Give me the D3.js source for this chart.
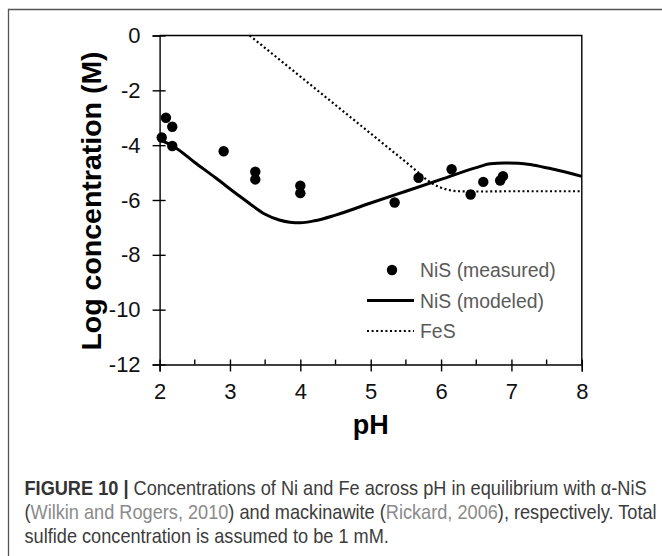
<!DOCTYPE html>
<html><head><meta charset="utf-8">
<script src="https://cdn.jsdelivr.net/npm/d3@7/dist/d3.min.js"></script>
<style>body{margin:0;background:#fff}svg{display:block}</style>
</head><body>
<script>
// ---- data ----
const measuredPH   = [2.03, 2.09, 2.18, 2.18, 2.91, 3.36, 3.36, 4.00, 4.00, 5.34, 5.68, 6.15, 6.42, 6.60, 6.84, 6.88];
const measuredLogC = [-3.72, -3.00, -3.33, -4.03, -4.22, -4.97, -5.25, -5.48, -5.75, -6.09, -5.19, -4.88, -5.80, -5.34, -5.29, -5.13];

const modeledPH   = [2.0, 2.2, 2.5, 2.8, 3.1, 3.3, 3.5, 3.7, 3.85, 4.0, 4.2, 4.5, 5.0, 5.5, 6.0, 6.5, 6.7, 6.9, 7.1, 7.3, 7.6, 8.0];
const modeledLogC = [-3.80, -4.05, -4.63, -5.20, -5.79, -6.17, -6.52, -6.73, -6.81, -6.83, -6.76, -6.55, -6.11, -5.68, -5.25, -4.82, -4.68, -4.65, -4.66, -4.72, -4.88, -5.14];

const fesPH   = [3.28, 3.8, 4.3, 4.8, 5.3, 5.6, 5.7, 5.8, 5.9, 6.0, 6.1, 6.25, 6.6, 7.0, 7.5, 8.0];
const fesLogC = [0.00, -1.08, -2.12, -3.16, -4.20, -4.83, -5.05, -5.27, -5.43, -5.55, -5.63, -5.68, -5.69, -5.68, -5.68, -5.68];

const xTicks = [2, 3, 4, 5, 6, 7, 8];
const xMinorTicks = [2.5, 3.5, 4.5, 5.5, 6.5, 7.5];
const yTicks = [0, -2, -4, -6, -8, -10, -12];
const legendLabels = ["NiS (measured)", "NiS (modeled)", "FeS"];
const xTitle = "pH";
const yTitle = "Log concentration (M)";
const captionLines = [
  [{t: "FIGURE 10 | ", k: "b"}, {t: "Concentrations of Ni and Fe across pH in equilibrium with α-NiS", k: "n"}],
  [{t: "(", k: "n"}, {t: "Wilkin and Rogers, 2010", k: "c"}, {t: ") and mackinawite (", k: "n"}, {t: "Rickard, 2006", k: "c"}, {t: "), respectively. Total", k: "n"}],
  [{t: "sulfide concentration is assumed to be 1 mM.", k: "n"}]
];

// ---- drawing ----
const W = 662, H = 556;
const FONT = "'Liberation Sans', Arial, Helvetica, sans-serif";
const svg = d3.select("body").append("svg").attr("width", W).attr("height", H)
  .style("font-family", FONT);

// outer frame (left and top visible)
svg.append("path").attr("d", `M8.5,${H} V9.5 H${W}`)
  .attr("fill", "none").attr("stroke", "#555").attr("stroke-width", 1.3);

const x = d3.scaleLinear().domain([2, 8]).range([159.6, 581.8]);
const y = d3.scaleLinear().domain([-12, 0]).range([364.5, 35.5]);
const fmt = d => String(d);

const plot = svg.append("g");

// plot box top & right
plot.append("path")
  .attr("d", `M${x(2)},${y(0)} H${x(8)} V${y(-12)}`)
  .attr("fill", "none").attr("stroke", "#000").attr("stroke-width", 1.4);

// x axis
const xAxis = plot.append("g").attr("transform", `translate(0,${y(-12)})`)
  .call(d3.axisBottom(x).tickValues(xTicks).tickSize(7).tickPadding(12).tickFormat(fmt));
xAxis.select(".domain").attr("stroke-width", 1.4);
xAxis.selectAll(".tick line").attr("y1", -5).attr("stroke-width", 1.4);
xAxis.selectAll(".tick text").attr("font-size", 22).attr("font-family", FONT).attr("fill", "#111");
// minor x ticks (inside)
plot.append("g").selectAll("line").data(xMinorTicks).join("line")
  .attr("x1", d => x(d)).attr("x2", d => x(d))
  .attr("y1", y(-12)).attr("y2", y(-12) - 5)
  .attr("stroke", "#000").attr("stroke-width", 1.4);

// y axis
const yAxis = plot.append("g").attr("transform", `translate(${x(2)},0)`)
  .call(d3.axisLeft(y).tickValues(yTicks).tickSize(7).tickPadding(12).tickFormat(fmt));
yAxis.select(".domain").attr("stroke-width", 1.4);
yAxis.selectAll(".tick line").attr("x1", 6).attr("stroke-width", 1.4);
yAxis.selectAll(".tick text").attr("font-size", 22).attr("font-family", FONT).attr("fill", "#111");

// axis titles
svg.append("text").text(xTitle)
  .attr("x", x(5)).attr("y", 434)
  .attr("text-anchor", "middle").attr("font-weight", "bold").attr("font-size", 27).attr("fill", "#000");
svg.append("text").text(yTitle)
  .attr("transform", `translate(101,${y(-6) + 1}) rotate(-90)`)
  .attr("text-anchor", "middle").attr("font-weight", "bold").attr("font-size", 28.5).attr("fill", "#000");

// lines
const line = d3.line().x(d => x(d[0])).y(d => y(d[1])).curve(d3.curveMonotoneX);
plot.append("path")
  .datum(fesPH.map((p, i) => [p, fesLogC[i]]))
  .attr("d", line).attr("fill", "none").attr("stroke", "#000")
  .attr("stroke-width", 2.2).attr("stroke-dasharray", "2,2.6");
plot.append("path")
  .datum(modeledPH.map((p, i) => [p, modeledLogC[i]]))
  .attr("d", line).attr("fill", "none").attr("stroke", "#000")
  .attr("stroke-width", 3).attr("stroke-linejoin", "round");

// points
plot.append("g").selectAll("circle")
  .data(measuredPH.map((p, i) => [p, measuredLogC[i]]))
  .join("circle")
  .attr("cx", d => x(d[0])).attr("cy", d => y(d[1])).attr("r", 5.2).attr("fill", "#000");

// legend
const lg = svg.append("g");
const ly = [270, 300.5, 331];
lg.append("circle").attr("cx", 392).attr("cy", ly[0]).attr("r", 5.2).attr("fill", "#000");
lg.append("line").attr("x1", 367).attr("x2", 414).attr("y1", ly[1]).attr("y2", ly[1])
  .attr("stroke", "#000").attr("stroke-width", 3);
lg.append("line").attr("x1", 367).attr("x2", 414).attr("y1", ly[2]).attr("y2", ly[2])
  .attr("stroke", "#000").attr("stroke-width", 2.2).attr("stroke-dasharray", "2,2.6");
lg.selectAll("text.lab").data(legendLabels).join("text").attr("class", "lab")
  .attr("x", 420).attr("y", (d, i) => ly[i] + 7)
  .attr("font-size", 19.4).attr("fill", "#5a5a5a").text(d => d);

// caption
const capBase = [495, 519, 543];
const capColors = {b: "#333", n: "#3c3c3c", c: "#8a8a8a"};
const capNodes = captionLines.map((segs, i) => {
  const t = svg.append("text").attr("x", 0).attr("y", 0)
    .attr("font-size", 20).attr("fill", "#3c3c3c");
  segs.forEach(s => {
    t.append("tspan").text(s.t)
      .attr("font-weight", s.k === "b" ? "bold" : "normal")
      .attr("fill", capColors[s.k]);
  });
  return t;
});
const w0 = capNodes[0].node().getComputedTextLength();
const sx = (647 - 24.5) / w0;
capNodes.forEach((t, i) => t.attr("transform", `translate(24.5,${capBase[i]}) scale(${sx},1)`));
</script>
</body></html>
